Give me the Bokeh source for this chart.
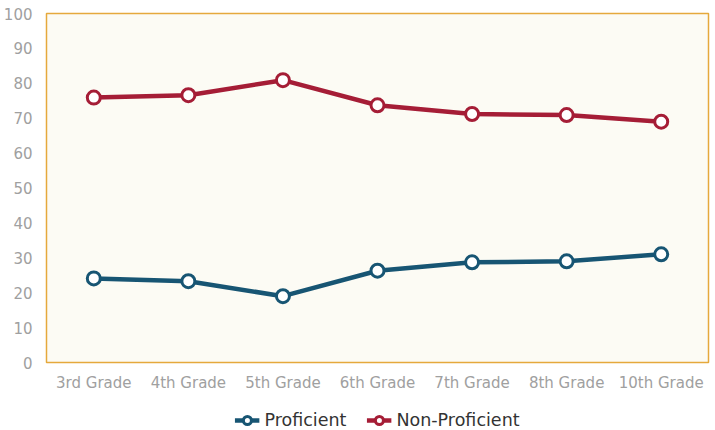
from bokeh.plotting import figure
from bokeh.models import Range1d, FactorRange, Legend, LegendItem, FixedTicker
from bokeh.layouts import column
from bokeh.embed import file_html
from bokeh.resources import INLINE

grades = ["3rd Grade", "4th Grade", "5th Grade", "6th Grade", "7th Grade", "8th Grade", "10th Grade"]
proficient = [24.1, 23.3, 19.0, 26.3, 28.7, 29.0, 31.0]
non_proficient = [75.9, 76.6, 80.9, 73.7, 71.2, 70.9, 69.0]
y_ticks = [0, 10, 20, 30, 40, 50, 60, 70, 80, 90, 100]
series_names = ["Proficient", "Non-Proficient"]

FONT = "DejaVu Sans"
BLUE = "#175573"
RED = "#A51D36"

p = figure(width=715, height=395, x_range=FactorRange(*grades, range_padding=0),
           y_range=Range1d(0, 100), output_backend="svg", toolbar_location=None,
           min_border_left=46, min_border_right=7, min_border_top=13, min_border_bottom=33)

p.background_fill_color = "#FCFBF4"
p.border_fill_color = "white"
p.outline_line_color = "#E5A93C"
p.outline_line_width = 1.5
p.xgrid.grid_line_color = None
p.ygrid.grid_line_color = None

for ax in (p.xaxis, p.yaxis):
    ax.axis_line_color = None
    ax.major_tick_line_color = None
    ax.minor_tick_line_color = None
    ax.major_label_text_color = "#A0A0A0"
    ax.major_label_text_font = FONT
    ax.major_label_text_font_size = "15px"
p.yaxis.ticker = FixedTicker(ticks=y_ticks)
p.yaxis.major_label_standoff = 8
p.xaxis.major_label_standoff = 5

p.line(grades, proficient, line_color=BLUE, line_width=4.5)
p.scatter(grades, proficient, size=13, fill_color="white", line_color=BLUE, line_width=3)
p.line(grades, non_proficient, line_color=RED, line_width=4.5)
p.scatter(grades, non_proficient, size=13, fill_color="white", line_color=RED, line_width=3)

# legend strip below the chart
lg = figure(width=715, height=35, x_range=Range1d(0, 1), y_range=Range1d(0, 1),
            output_backend="svg", toolbar_location=None,
            min_border=0, outline_line_color=None)
lg.axis.visible = False
lg.grid.visible = False
items = []
for name, col in zip(series_names, [BLUE, RED]):
    lr = lg.line([-10, -9], [-10, -9], line_color=col, line_width=4.5)
    cr = lg.scatter([-10], [-10], size=11, fill_color="white", line_color=col, line_width=3)
    items.append(LegendItem(label=name, renderers=[lr, cr]))
legend = Legend(items=items, orientation="horizontal", location="bottom_center",
                label_text_font=FONT, label_text_font_size="17.5px", label_text_color="#333333",
                border_line_color=None, background_fill_alpha=0,
                glyph_width=25, spacing=20, padding=4, margin=0, label_standoff=5)
lg.add_layout(legend, "center")

layout = column(p, lg, spacing=0)
open("out.html", "w").write(file_html(layout, INLINE))
